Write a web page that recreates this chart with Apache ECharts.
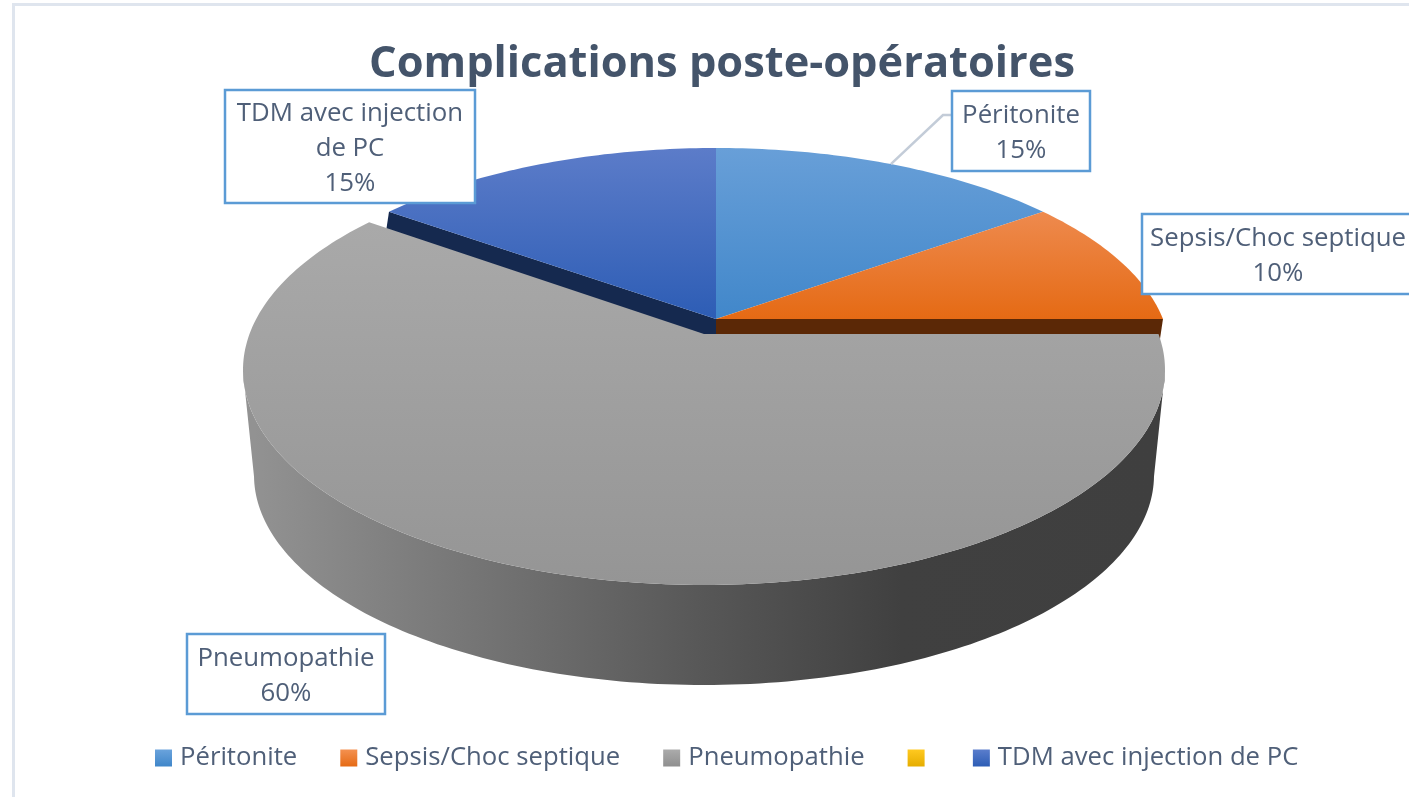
<!DOCTYPE html>
<html>
<head>
<meta charset="utf-8">
<title>Complications poste-opératoires</title>
<script src="https://cdn.jsdelivr.net/npm/echarts@6/dist/echarts.min.js"></script>
<style>
html,body{margin:0;padding:0;background:#fff;overflow:hidden}
#container{width:1409px;height:797px}
</style>
</head>
<body>
<div id="container"></div>
<script>
// data
const chartTitle = 'Complications poste-opératoires'
const categories = ['Péritonite', 'Sepsis/Choc septique', 'Pneumopathie', ' ', 'TDM avec injection de PC']
const values = [15, 10, 60, 0, 15]
const total = values.reduce((a, b) => a + b, 0)

// ellipse of the top face, the big slice is pulled out so it has its own one
const mainDisc = { cx: 716, cy: 356.5, rx: 454.4, ry: 208.5, b: 0.18 }
const bigDisc = { cx: 704, cy: 370, rx: 461, ry: 215, b: 0.167 }
const wallDisc = { cx: 704, cy: 475, rx: 450, ry: 210 }

// look of each slice
const sliceStyle = [
	{ top: '#689fd8', bottom: '#4187ca', y0: 148, y1: 319, z: 2 },
	{ top: '#ee8a4e', bottom: '#e56a14', y0: 212, y1: 319, z: 2, cut: 'end', cutColor: '#5b2806' },
	{ top: '#a9a9a9', bottom: '#959595', y0: 225, y1: 585, z: 3, wall: true },
	{ top: '#ffc000', bottom: '#ffc000', y0: 0, y1: 1, z: 2 },
	{ top: '#5c7cc9', bottom: '#2d5db5', y0: 148, y1: 319, z: 2, cut: 'start', cutColor: '#15294f' }
]
const legendColors = [
	['#6aa3dc', '#3f86c9'], ['#f49150', '#e56a14'], ['#ababab', '#8f8f8f'], ['#ffc920', '#e5ad00'], ['#5a7dcc', '#2d5db5']
]
// label boxes
const labelBoxes = [
	{ x: 952, y: 91, w: 138, h: 80, lines: ['Péritonite'], leader: true },
	{ x: 1142, y: 214, w: 290, h: 80, lines: ['Sepsis/Choc septique'], tx: 1278 },
	{ x: 187, y: 634, w: 198, h: 80, lines: ['Pneumopathie'] },
	null,
	{ x: 225, y: 90, w: 250, h: 113, lines: ['TDM avec injection', 'de PC'] }
]

const fontName = '"Open Sans", sans-serif'
const textColor = '#4f5f78'

function startOf(i) {
	let s = 0
	for (let k = 0; k < i; k++) s += values[k]
	return s / total * 360
}
// circle angle -> point of the tilted disc
function project(deg, g, r) {
	const a = deg * Math.PI / 180
	const X = Math.sin(a) * (r === undefined ? 1 : r)
	const Y = Math.cos(a) * (r === undefined ? 1 : r)
	const d = 1 + g.b * Y
	const u = X * Math.sqrt(1 - g.b * g.b) / d
	const v = (Y + g.b) / d
	return { u: u, v: v, x: g.cx + g.rx * u, y: g.cy - g.ry * v }
}
function vGrad(s) {
	return new echarts.graphic.LinearGradient(0, s.y0, 0, s.y1, [
		{ offset: 0, color: s.top }, { offset: 1, color: s.bottom }
	], true)
}

function renderSlice(params, api) {
	const i = api.value(0)
	const val = api.value(1)
	if (!val) return null
	const st = sliceStyle[i]
	const g = st.wall ? bigDisc : mainDisc
	const from = startOf(i)
	const to = from + val / total * 360
	const apex = project(0, g, 0)
	const children = []
	const arc = []
	for (let d = from; d <= to + 0.001; d += 1) arc.push(project(d, g))

	// side wall of the pulled out slice
	if (st.wall) {
		const front = arc.filter(p => p.v <= 0)
		const pts = front.map(p => [p.x, p.y])
		for (let k = front.length - 1; k >= 0; k--) {
			pts.push([wallDisc.cx + wallDisc.rx * front[k].u, wallDisc.cy - wallDisc.ry * front[k].v])
		}
		children.push({
			type: 'polygon',
			shape: { points: pts },
			style: {
				fill: new echarts.graphic.LinearGradient(254, 0, 1154, 0, [
					{ offset: 0, color: '#929292' },
					{ offset: 0.5, color: '#575757' },
					{ offset: 0.72, color: '#404040' },
					{ offset: 1, color: '#3f3f3f' }
				], true)
			}
		})
	}
	// dark cut face, the big slice hides its lower part
	if (st.cut) {
		const edge = project(st.cut === 'end' ? to : from, g)
		children.push({
			type: 'polygon',
			shape: { points: [[edge.x, edge.y], [apex.x, apex.y], [apex.x, apex.y + 20], [edge.x - 3, edge.y + 20]] },
			style: { fill: st.cutColor }
		})
	}
	// top face
	children.push({
		type: 'polygon',
		shape: { points: [[apex.x, apex.y]].concat(arc.map(p => [p.x, p.y])) },
		style: { fill: vGrad(st) }
	})
	return { type: 'group', children: children }
}

function renderLabel(params, api) {
	const i = api.value(0)
	const val = api.value(1)
	const box = labelBoxes[i]
	if (!val || !box) return null
	const children = []
	if (box.leader) {
		const mid = project(startOf(i) + val / total * 180, mainDisc)
		children.push({
			type: 'polyline',
			shape: { points: [[mid.x, mid.y], [943, 115], [box.x, 115]] },
			style: { stroke: '#c3ccd8', lineWidth: 2.5, fill: 'none' }
		})
	}
	children.push({
		type: 'rect',
		shape: { x: box.x, y: box.y, width: box.w, height: box.h },
		style: { fill: '#fff', stroke: '#5b9bd5', lineWidth: 2.5 }
	})
	const lines = box.lines.concat([Math.round(val / total * 100) + '%'])
	children.push({
		type: 'text',
		style: {
			text: lines.join('\n'),
			x: box.tx || box.x + box.w / 2,
			y: box.y + box.h / 2 + 2.5,
			align: 'center',
			verticalAlign: 'middle',
			font: '25.8px ' + fontName,
			lineHeight: 35,
			fill: textColor
		}
	})
	return { type: 'group', children: children }
}

const rows = categories.map((c, i) => [i, values[i]])
const series = categories.map((c, i) => ({
	type: 'custom',
	name: c,
	coordinateSystem: 'none',
	z: sliceStyle[i].z,
	silent: true,
	animation: false,
	itemStyle: { color: legendColors[i][1] },
	data: [rows[i]],
	renderItem: renderSlice
}))
series.push({
	type: 'custom',
	name: 'labels',
	coordinateSystem: 'none',
	z: 10,
	silent: true,
	animation: false,
	data: rows,
	renderItem: renderLabel
})

const myChart = echarts.init(document.getElementById('container'))
myChart.setOption({
	animation: false,
	backgroundColor: '#fff',
	title: {
		text: chartTitle,
		left: 717,
		top: 38,
		textAlign: 'center',
		textStyle: { fontFamily: fontName, fontSize: 43.4, fontWeight: 'bold', color: '#44546a' }
	},
	legend: {
		left: 155,
		top: 745,
		padding: 0,
		itemWidth: 17,
		itemHeight: 17,
		itemGap: 43,
		selectedMode: false,
		textStyle: { fontFamily: fontName, fontSize: 25.7, color: textColor, padding: [0, 0, 0, 3] },
		data: categories.map((c, i) => ({
			name: c,
			icon: 'rect',
			// the yellow entry has no name, keep its text from taking room
			textStyle: c.trim() ? undefined : { fontSize: 1, padding: 0 },
			itemStyle: {
				color: new echarts.graphic.LinearGradient(0, 0, 0, 1, [
					{ offset: 0, color: legendColors[i][0] }, { offset: 1, color: legendColors[i][1] }
				])
			}
		}))
	},
	graphic: [{
		type: 'polyline',
		silent: true,
		shape: { points: [[13.5, 797], [13.5, 4.5], [1409, 4.5]] },
		style: { stroke: '#dfe5ee', lineWidth: 3, fill: 'none' }
	}],
	series: series
})
</script>
</body>
</html>
